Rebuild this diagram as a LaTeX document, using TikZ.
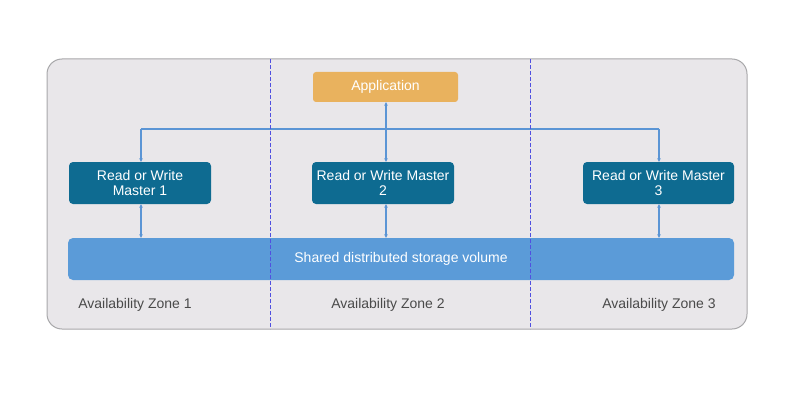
\documentclass[tikz,border=0pt]{standalone}
\usepackage{fontspec}
\setmainfont{Liberation Sans}
\usetikzlibrary{arrows.meta}
\definecolor{bgfill}{HTML}{E9E7EA}
\definecolor{bgdraw}{HTML}{A8A8AA}
\definecolor{mastfill}{HTML}{0E6B91}
\definecolor{storfill}{HTML}{5B9BD8}
\definecolor{appfill}{HTML}{E9B25E}
\definecolor{linkcol}{HTML}{5B95D5}
\definecolor{zonecol}{HTML}{4A4A4A}
\definecolor{dashcol}{HTML}{5050E0}
\tikzset{
  master/.style={draw=none, fill=mastfill, rounded corners=4pt, text=white, minimum height=42pt, align=center, font=\fontsize{14}{15.5}\selectfont, inner sep=0pt},
  link/.style={draw=linkcol, line width=1.2pt, {Stealth[length=3.5pt,width=3.5pt]}-{Stealth[length=3.5pt,width=3.5pt]}},
  zone/.style={text=zonecol, font=\fontsize{14}{15.5}\selectfont},
  zoneline/.style={draw=dashcol, line width=0.7pt, dash pattern=on 4pt off 2pt},
}
\begin{document}
\begin{tikzpicture}[x=1pt,y=-1pt]
\useasboundingbox (0,0) rectangle (799,406);
\fill[white] (0,0) rectangle (799,406);
\draw[bgdraw, fill=bgfill, line width=1pt, rounded corners=15pt] (47,59) rectangle (747,329);
\node[fill=appfill, rounded corners=3pt, text=white, minimum width=145pt, minimum height=30pt, inner sep=0pt, font=\fontsize{14}{15.5}\selectfont] (app) at (385.5,87) {Application};
\node[master, minimum width=142pt] (m1) at (140,183) {Read or Write\\Master 1};
\node[master, minimum width=142pt] (m2) at (383,183) {Read or Write Master\\2};
\node[master, minimum width=151pt] (m3) at (658.5,183) {Read or Write Master\\3};
\node[fill=storfill, rounded corners=5pt, text=white, minimum width=666pt, minimum height=42pt, inner sep=0pt, font=\fontsize{14}{15.5}\selectfont] (stor) at (401,259) {Shared distributed storage volume};
\coordinate (j1) at (141,129);
\coordinate (j3) at (659,129);
\draw[link] (app.south -| 386,0) -- (m2.north -| 386,0);
\draw[linkcol, line width=1.2pt] (j1) -- (j3);
\draw[linkcol, line width=1.2pt, -{Stealth[length=3.5pt,width=3.5pt]}] (j1) -- (m1.north -| j1);
\draw[linkcol, line width=1.2pt, -{Stealth[length=3.5pt,width=3.5pt]}] (j3) -- (m3.north -| j3);
\draw[link] (m1.south -| 141,0) -- (stor.north -| 141,0);
\draw[link] (m2.south -| 386,0) -- (stor.north -| 386,0);
\draw[link] (m3.south -| 659,0) -- (stor.north -| 659,0);
\node[zone] (z1) at (135,305) {Availability Zone 1};
\node[zone] (z2) at (388,305) {Availability Zone 2};
\node[zone] (z3) at (659,305) {Availability Zone 3};
\coordinate (d1t) at (270,59);
\coordinate (d1b) at (270,329);
\coordinate (d2t) at (530,59);
\coordinate (d2b) at (530,329);
\draw[zoneline] (d1t) -- (d1b);
\draw[zoneline] (d2t) -- (d2b);
\end{tikzpicture}
\end{document}
